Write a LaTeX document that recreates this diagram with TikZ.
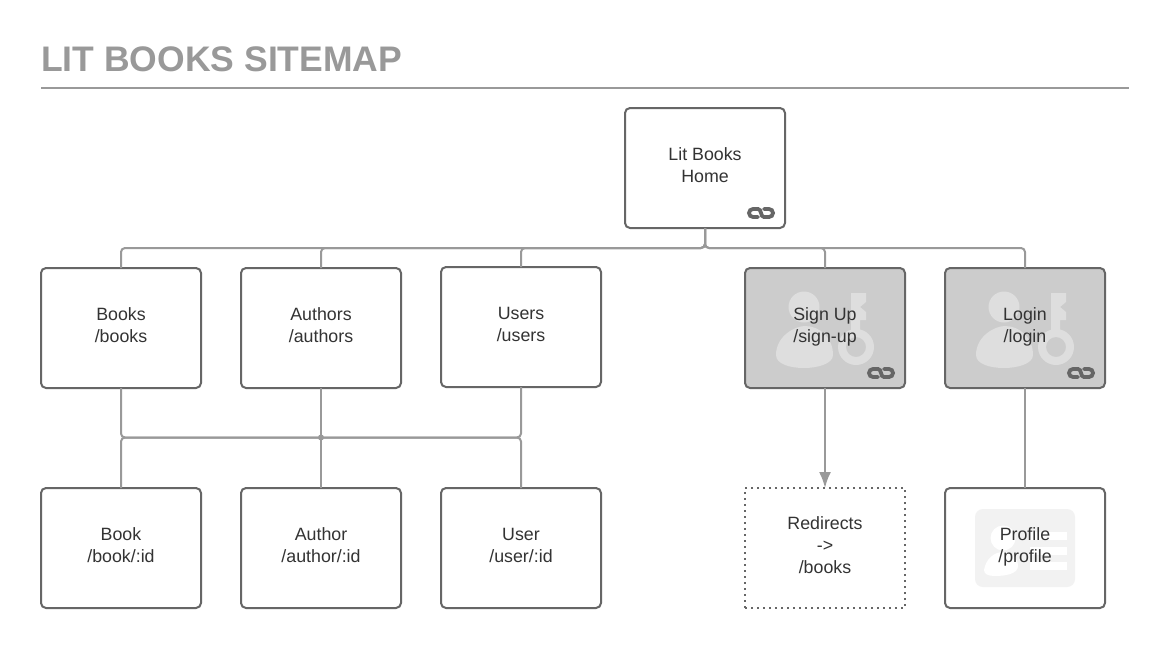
\documentclass[tikz,border=0pt]{standalone}
\usepackage{fontspec}
\setmainfont{Liberation Sans}
\usetikzlibrary{arrows.meta,backgrounds}
\definecolor{boxline}{HTML}{666666}
\definecolor{linkline}{HTML}{999999}
\definecolor{boxgrey}{HTML}{CCCCCC}
\definecolor{icongrey}{HTML}{DEDEDE}
\definecolor{cardgrey}{HTML}{F2F2F2}
\definecolor{textgrey}{HTML}{333333}
\newcommand{\chainicon}[1]{%
\draw[boxline,line width=3.8pt,line cap=round,shift={(#1.center)}] (53,49) -- (48,49) arc (90:270:4) -- (53,41) .. controls (57,41) and (55,49) .. (59,49) -- (64,49) arc (90:-90:4) -- (59,41) ;
}
\newcommand{\userkey}[1]{%
\fill[boxgrey,rounded corners=5pt] (#1.north west) rectangle (#1.south east) ;
\begin{scope}[shift={(#1.center)}]
\fill[icongrey] (-21,-21) circle (15.5) ;
\fill[icongrey] (-49,27) .. controls (-49,8) and (-30,-2) .. (-20,-2) .. controls (-5,-2) and (8,10) .. (8,27) .. controls (8,36) and (-8,40) .. (-21,40) .. controls (-35,40) and (-49,36) .. (-49,27) -- cycle ;
\fill[icongrey,even odd rule] (31,19) circle (18) (31,19) circle (10) ;
\fill[icongrey] (26,5) -- (26,-35) -- (41,-35) -- (41,-26) -- (35,-21) -- (41,-16) -- (41,-8) -- (35,-8) -- (35,3) -- cycle ;
\end{scope}
\chainicon{#1}
}
\newcommand{\cardicon}[1]{%
\begin{scope}[shift={(#1.center)}]
\fill[cardgrey,rounded corners=8pt] (-50,-39) rectangle (50,39) ;
\fill[white] (-22,-10) circle (12.5) ;
\fill[white] (-41,22) .. controls (-39,10) and (-30,4) .. (-22,4) .. controls (-14,4) and (-7,10) .. (-7,18) .. controls (-7,26) and (-20,28) .. (-30,28) .. controls (-37,28) and (-41,26) .. (-41,22) -- cycle ;
\fill[white] (5,-16) rectangle (42,-8.5) ;
\fill[white] (5,-1) rectangle (42,6.5) ;
\fill[white] (5,14) rectangle (42,21.5) ;
\end{scope}
}
\tikzset{
pagebox/.style={draw=boxline, line width=2pt, rounded corners=5pt, minimum width=160pt, minimum height=120pt, inner sep=0pt, outer sep=0pt, align=center, text=textgrey, font=\fontsize{17.8}{22}\selectfont, execute at begin node={\rule{0pt}{16pt}}, execute at end node={\rule[-5pt]{0pt}{5pt}}},
link/.style={draw=linkline, line width=2pt},
}
\begin{document}
\begin{tikzpicture}[x=1pt,y=-1pt]
\useasboundingbox (0,0) rectangle (1169,648) ;
% heading
\node[anchor=base west, inner sep=0pt, text=linkline, font=\fontsize{35.5}{40}\selectfont\bfseries] (title) at (41,71.5) {LIT BOOKS SITEMAP} ;
\coordinate (ruleleft) at (41,88) ;
\coordinate (ruleright) at (1129,88) ;
\draw[link] (ruleleft) -- (ruleright) ;
% pages
\node[pagebox] (home) at (705,168) {Lit Books\\Home} ;
\node[pagebox] (books) at (121,328) {Books\\/books} ;
\node[pagebox] (authors) at (321,328) {Authors\\/authors} ;
\node[pagebox] (users) at (521,327) {Users\\/users} ;
\node[pagebox] (signup) at (825,328) {Sign Up\\/sign-up} ;
\node[pagebox] (login) at (1025,328) {Login\\/login} ;
\node[pagebox] (book) at (121,548) {Book\\/book/:id} ;
\node[pagebox] (author) at (321,548) {Author\\/author/:id} ;
\node[pagebox] (user) at (521,548) {User\\/user/:id} ;
\node[pagebox, rounded corners=0pt, dash pattern=on 2pt off 4pt] (redirects) at (825,548) {Redirects\\->\\/books} ;
\node[pagebox] (profile) at (1025,548) {Profile\\/profile} ;
% fills and icons go behind the texts
\begin{scope}[on background layer]
\fill[white] (0,0) rectangle (1169,648) ;
\chainicon{home}
\userkey{signup}
\userkey{login}
\cardicon{profile}
\end{scope}
% links
\foreach \child in {books,authors,users,signup,login}
\draw[link, rounded corners=4pt] (home.south) -- ++(0,20) -| (\child.north) ;
\node[circle, fill=linkline, inner sep=0pt, minimum size=6pt] (busdot) at (321,437.5) {} ;
\draw[link] (authors.south) -- (author.north) ;
\draw[link, rounded corners=4pt] (books.south) |- (busdot.center) ;
\draw[link, rounded corners=4pt] (book.north) |- (busdot.center) ;
\draw[link, rounded corners=4pt] (users.south) |- (busdot.center) ;
\draw[link, rounded corners=4pt] (user.north) |- (busdot.center) ;
\draw[link, -{Latex[length=16pt,width=12pt]}] (signup.south) -- (redirects.north) ;
\draw[link] (login.south) -- (profile.north) ;
\end{tikzpicture}
\end{document}
